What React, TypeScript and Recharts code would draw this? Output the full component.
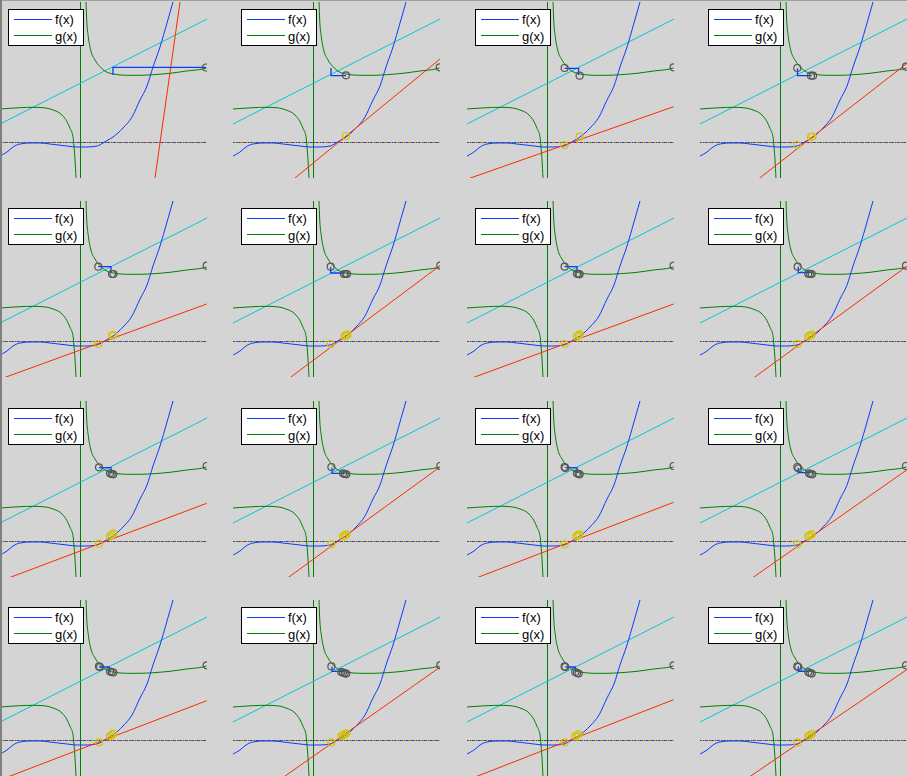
import React from 'react'
import {
  ComposedChart,
  Line,
  Scatter,
  XAxis,
  YAxis,
  ReferenceLine,
} from 'recharts'

type Pt = [number, number]

// shared curves (x to the right, y up from the dashed zero line)
const fCurve: Pt[] = [
  [0, -14], [7, -10], [13, -5], [20, -2], [30, -1], [40, -1], [50, -2], [67, -4],
  [77, -5], [87, -5], [97, -4], [103, -1], [108, 2], [113, 5], [123, 14], [132, 25],
  [140, 42], [147, 56], [153, 75], [160, 95], [167, 119], [173, 140],
]
const gLeft: Pt[] = [
  [0, 33], [20, 34.3], [33, 34.7], [43, 34.3], [53, 32], [62, 27], [67, 20.3],
  [70, 13.7], [73, 5.3], [74, -4.7], [75, -18], [76, -36.5],
]
const gRight: Pt[] = [
  [86, 141], [86.7, 122], [88.3, 105.3], [90.7, 92], [95, 82], [100, 75.3], [106, 70.3],
  [113.3, 68], [126.7, 66.7], [140, 66.7], [153.3, 67.3], [170, 68.7], [186.7, 71], [204, 73.3],
  [206.5, 74],
]
const cyanLine: Pt[] = [[0, 18], [207, 123]]
const zeroLine: Pt[] = [[0, 0], [207, 0]]
const asymptoteX = 80

// per panel (row by row)
const tangentLines: Pt[][] = [
  [[155, -36], [180, 140]],
  [[62, -36], [207, 83]],
  [[2.6, -36.3], [206.6, 35.3]],
  [[59.3, -36.3], [207, 78.7]],
  [[5, -36.4], [206.7, 37]],
  [[57.4, -36.4], [207.3, 75.6]],
  [[6.6, -36.4], [206.6, 37]],
  [[54.3, -36.4], [206.7, 74.6]],
  [[9.3, -36.7], [206.7, 37.7]],
  [[55, -36.7], [207.3, 74.3]],
  [[10, -36.7], [206.6, 38.7]],
  [[52.7, -36.7], [206.7, 71]],
  [[9, -36.5], [206.7, 39.3]],
  [[51.4, -36.5], [207.3, 73]],
  [[9.4, -36.5], [206.6, 40.3]],
  [[50, -36.5], [206.7, 70.3]],
]
const stepPaths: Pt[][] = [
  [[206, 74.7], [113, 74.7], [113, 67]],
  [[98, 74], [98, 66.3], [113, 66.3]],
  [[97.6, 73.7], [111.6, 73.7], [111.6, 67]],
  [[97.5, 73.7], [97.5, 66.3], [111.7, 66.3]],
  [[98.3, 74.3], [111, 74.3], [111, 68]],
  [[97.7, 74.3], [97.7, 68], [111.7, 68]],
  [[97.6, 74.3], [110, 74.3], [110, 69]],
  [[98.3, 74.3], [98.3, 68.3], [110, 68.3]],
  [[99, 73.3], [111, 73.3], [111, 67.7]],
  [[99, 73.3], [99, 67.7], [111.7, 67.7]],
  [[98.3, 73.3], [110, 73.3], [110, 68.3]],
  [[98.3, 73.3], [98.3, 68.3], [110, 68.3]],
  [[99, 73], [109.3, 73], [109.3, 68.6]],
  [[99, 73.6], [99, 68.6], [110, 68.6]],
  [[98.3, 73], [108.3, 73], [108.3, 68.6]],
  [[98.3, 73.6], [98.3, 68.6], [108.3, 68.6]],
]
const grayMarks: Pt[][] = [
  [[206, 74.5]],
  [[113, 66.7], [206.7, 74.7]],
  [[97.6, 74], [112.6, 66.3], [206.6, 74.7]],
  [[97.3, 74], [111, 66.3], [113, 66.3], [206, 75.3]],
  [[98.3, 74.3], [112, 67], [113.5, 67], [206.7, 75.3]],
  [[97.7, 74.3], [111, 67], [112.5, 67], [114, 67], [207.3, 75.3]],
  [[97.6, 74.3], [110, 67.3], [111.6, 67], [112.6, 66.7], [206.6, 75.3]],
  [[97.7, 74.3], [108.3, 67.3], [110, 67], [111.7, 67], [206, 75.3]],
  [[99, 73.7], [110, 67.7], [111.7, 67], [113.3, 66.7], [206.7, 75]],
  [[98.4, 74], [110, 67.7], [111.7, 67], [113.3, 66.7], [207.3, 75]],
  [[97.6, 74], [98.3, 73], [110, 67.7], [111.6, 67], [112.6, 66.7], [206.6, 75]],
  [[97.3, 74], [98.3, 72.7], [109, 67.7], [110.7, 67], [112.3, 66.7], [206, 75]],
  [[99, 73.6], [100, 73], [110, 68.5], [111.7, 68], [113.3, 67.5], [206.7, 74.7]],
  [[98.4, 73.6], [108.3, 68], [110, 67.3], [111.7, 66.7], [113.3, 66.4], [207.3, 74.7]],
  [[97.6, 73.6], [98.3, 73], [108.3, 68], [110, 67], [111.6, 66.4], [206.6, 74.7]],
  [[97.3, 73.6], [98.3, 73], [108.3, 68], [110, 67], [111.7, 66.4], [206, 74.7]],
]
const yellowMarks: Pt[][] = [
  [],
  [[113, 6]],
  [[97.6, -3], [112.6, 5.3]],
  [[97.3, -3], [111, 5], [112.5, 5.5]],
  [[98.3, -3], [112, 5.3], [113.5, 6]],
  [[97.7, -3], [111.5, 5], [113, 5.6], [114.5, 6.3]],
  [[97.6, -3], [110, 4.3], [111.6, 5.6], [112.6, 6.6]],
  [[97.7, -3], [108.3, 4.3], [110, 5.3], [111.7, 6.3]],
  [[99, -2.7], [110, 4.7], [111.7, 6], [113.3, 7.3]],
  [[98.4, -3.3], [110, 4.7], [111.7, 5.7], [113.3, 6.7]],
  [[97.6, -3.3], [109.3, 4.7], [111, 5.7], [112.3, 6.7]],
  [[97.3, -3.3], [108.3, 4.7], [110, 5.7], [111.7, 6.7]],
  [[99, -2.4], [110, 3.7], [111.7, 5], [113.3, 6.3]],
  [[98.4, -2.4], [108.3, 3.7], [110, 4.7], [111.7, 5.7], [113.3, 6.7]],
  [[97.6, -2.4], [108.3, 3.7], [110, 4.7], [111.6, 6]],
  [[97.3, -2.4], [108.3, 3.7], [110, 4.7], [111.7, 6]],
]
const legendItems = [
  { name: 'f(x)', color: '#0a3cff' },
  { name: 'g(x)', color: '#008000' },
]

const colLeft = [0, 233, 467, 700]
const rowTop = [0, 199, 399, 598]
const dashColors = ['#0a3cff', '#ff2a00', '#d8c800', '#008000', '#00c8c8', '#c800c8']

const toXY = (pts: Pt[]) => pts.map(([x, y]) => ({ x, y }))

const ZeroDash = (props: any) => {
  const { x1, x2, y1 } = props
  const y = Math.round(y1) + 0.5
  return (
    <g>
      {dashColors.map((c, i) => (
        <line
          key={c}
          x1={x1}
          x2={x2}
          y1={y}
          y2={y}
          stroke={c}
          strokeWidth={1}
          strokeDasharray="1 5"
          strokeDashoffset={-i}
          shapeRendering="crispEdges"
        />
      ))}
    </g>
  )
}

const ring = (color: string) => (props: any) => (
  <circle cx={props.cx} cy={props.cy} r={3.5} fill="none" stroke={color} strokeWidth={1.2} />
)

function Legend() {
  return (
    <div
      style={{
        position: 'absolute',
        left: 8,
        top: 9,
        width: 76,
        height: 37,
        boxSizing: 'border-box',
        border: '1px solid #000',
        background: '#fff',
        fontFamily: 'Arial, "Liberation Sans", sans-serif',
        fontSize: 13,
        lineHeight: '15px',
        color: '#000',
      }}
    >
      {legendItems.map((it, i) => (
        <React.Fragment key={it.name}>
          <div
            style={{
              position: 'absolute',
              left: 5,
              top: 9 + i * 16,
              width: 38,
              height: 1,
              background: it.color,
            }}
          />
          <div style={{ position: 'absolute', left: 46, top: 2 + i * 17 }}>{it.name}</div>
        </React.Fragment>
      ))}
    </div>
  )
}

function Panel({ idx }: { idx: number }) {
  const row = Math.floor(idx / 4)
  const col = idx % 4
  const common = { dot: false, activeDot: false, isAnimationActive: false } as const
  return (
    <div style={{ position: 'absolute', left: colLeft[col], top: rowTop[row], width: 213, height: 180 }}>
      <ComposedChart width={213} height={180} margin={{ top: 2, right: 6, bottom: 2, left: 0 }}>
        <XAxis type="number" dataKey="x" domain={[0, 207]} hide allowDataOverflow />
        <YAxis type="number" dataKey="y" domain={[-36, 140]} hide allowDataOverflow />
        <ReferenceLine
          segment={[{ x: zeroLine[0][0], y: 0 }, { x: zeroLine[1][0], y: 0 }]}
          shape={ZeroDash}
        />
        <ReferenceLine x={asymptoteX} stroke="#008000" strokeWidth={1} shapeRendering="crispEdges" />
        <Line data={toXY(cyanLine)} dataKey="y" stroke="#00c8d0" {...common} />
        <Line data={toXY(gLeft)} type="monotone" dataKey="y" stroke="#008000" {...common} />
        <Line data={toXY(gRight)} type="monotone" dataKey="y" stroke="#008000" {...common} />
        <Line data={toXY(fCurve)} type="monotone" dataKey="y" stroke="#0a3cff" {...common} />
        <Line data={toXY(tangentLines[idx])} dataKey="y" stroke="#ff2a00" {...common} />
        <Line data={toXY(stepPaths[idx])} dataKey="y" stroke="#0a3cff" strokeWidth={1.3} {...common} />
        <Scatter data={toXY(grayMarks[idx])} dataKey="y" shape={ring('#555555')} isAnimationActive={false} />
        <Scatter data={toXY(yellowMarks[idx])} dataKey="y" shape={ring('#d4c400')} isAnimationActive={false} />
      </ComposedChart>
      <Legend />
    </div>
  )
}

export default function App() {
  return (
    <div
      style={{
        position: 'absolute',
        left: 0,
        top: 0,
        width: 907,
        height: 776,
        overflow: 'hidden',
        background: '#d4d4d4',
      }}
    >
      {tangentLines.map((_, i) => (
        <Panel key={i} idx={i} />
      ))}
      <div style={{ position: 'absolute', left: 0, top: 0, width: 907, height: 1, background: '#a0a0a0' }} />
      <div style={{ position: 'absolute', left: 0, top: 0, width: 2, height: 776, background: '#808080' }} />
    </div>
  )
}
